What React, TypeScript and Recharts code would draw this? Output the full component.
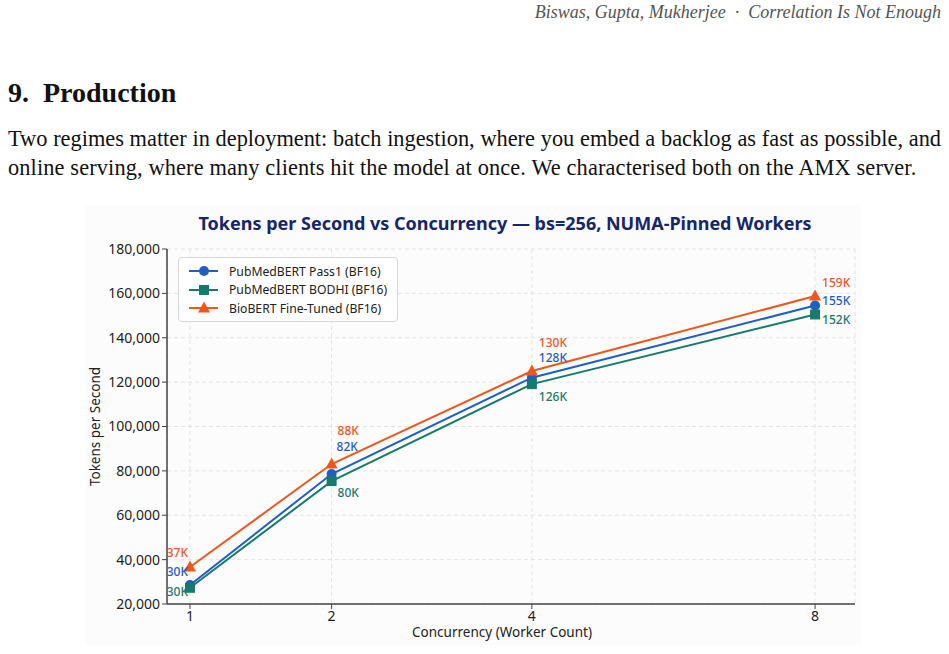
import React from 'react';
import { LineChart, Line, XAxis, YAxis, CartesianGrid, Legend, LabelList } from 'recharts';

// ---------- data ----------
const concurrency = [1, 2, 4, 8];
const pass1Values = [28600, 78600, 122000, 154500];
const bodhiValues = [27300, 75400, 119100, 150500];
const biobertValues = [36700, 83100, 125000, 158800];

const pass1Labels = ['30K', '82K', '128K', '155K'];
const bodhiLabels = ['30K', '80K', '126K', '152K'];
const biobertLabels = ['37K', '88K', '130K', '159K'];

const xTicks = [1, 2, 4, 8];
const yTicks = [20000, 40000, 60000, 80000, 100000, 120000, 140000, 160000, 180000];

const seriesNames = ['PubMedBERT Pass1 (BF16)', 'PubMedBERT BODHI (BF16)', 'BioBERT Fine-Tuned (BF16)'];

// ---------- style ----------
const BLUE = '#1f5ec4';
const TEAL = '#167a6c';
const ORANGE = '#f0561c';
const SANS = '"Noto Sans", "Open Sans", sans-serif';

type Off = { dx: number; dy: number; anchor: 'start' | 'end' };
const pass1Offsets: Off[] = [
  { dx: -2, dy: -13, anchor: 'end' },
  { dx: 5, dy: -27, anchor: 'start' },
  { dx: 7, dy: -20, anchor: 'start' },
  { dx: 7, dy: -5, anchor: 'start' },
];
const bodhiOffsets: Off[] = [
  { dx: -2, dy: 4, anchor: 'end' },
  { dx: 6, dy: 11, anchor: 'start' },
  { dx: 7, dy: 12, anchor: 'start' },
  { dx: 7, dy: 5, anchor: 'start' },
];
const biobertOffsets: Off[] = [
  { dx: -2, dy: -14, anchor: 'end' },
  { dx: 6, dy: -33, anchor: 'start' },
  { dx: 7, dy: -29, anchor: 'start' },
  { dx: 7, dy: -14, anchor: 'start' },
];

const data = concurrency.map((c, i) => ({
  c,
  pass1: pass1Values[i],
  bodhi: bodhiValues[i],
  biobert: biobertValues[i],
}));

const makeLabel = (labels: string[], offsets: Off[], color: string) => (props: any) => {
  const { x, y, index } = props;
  if (x == null || y == null) return null;
  const o = offsets[index];
  return (
    <text
      key={`lbl-${index}`}
      x={x + o.dx}
      y={y + o.dy}
      textAnchor={o.anchor}
      dominantBaseline="central"
      fill={color}
      fontFamily={SANS}
      fontSize={12}
      fontWeight={500}
    >
      {labels[index]}
    </text>
  );
};

const squareDot = (color: string) => (props: any) => {
  const { cx, cy, index } = props;
  if (cx == null || cy == null) return <g key={`sq-${index}`} />;
  return <rect key={`sq-${index}`} x={cx - 5} y={cy - 5} width={10} height={10} fill={color} />;
};

const triangleDot = (color: string) => (props: any) => {
  const { cx, cy, index } = props;
  if (cx == null || cy == null) return <g key={`tr-${index}`} />;
  return (
    <path
      key={`tr-${index}`}
      d={`M${cx},${cy - 6.5} L${cx + 6},${cy + 4.5} L${cx - 6},${cy + 4.5} Z`}
      fill={color}
    />
  );
};

const legendItems = [
  { name: seriesNames[0], color: BLUE, shape: 'circle' },
  { name: seriesNames[1], color: TEAL, shape: 'square' },
  { name: seriesNames[2], color: ORANGE, shape: 'triangle' },
];

const renderLegend = () => (
  <div
    style={{
      width: 220,
      height: 65,
      boxSizing: 'border-box',
      border: '1px solid #d6d6d6',
      borderRadius: 4,
      background: 'rgba(255,255,255,0.95)',
      paddingTop: 4,
      fontFamily: SANS,
      fontSize: 12.2,
      color: '#222',
    }}
  >
    {legendItems.map((it) => (
      <div key={it.name} style={{ display: 'flex', alignItems: 'center', height: 18.5 }}>
        <svg width={50} height={14} style={{ flex: '0 0 auto' }}>
          <line x1={10} y1={7} x2={39} y2={7} stroke={it.color} strokeWidth={2} />
          {it.shape === 'circle' && <circle cx={25} cy={7} r={5} fill={it.color} />}
          {it.shape === 'square' && <rect x={20} y={2} width={10} height={10} fill={it.color} />}
          {it.shape === 'triangle' && <path d="M25,0.5 L31,11.5 L19,11.5 Z" fill={it.color} />}
        </svg>
        <span style={{ whiteSpace: 'nowrap' }}>{it.name}</span>
      </div>
    ))}
  </div>
);

const YLabel = (props: any) => {
  const vb = props.viewBox || { x: 0, y: 0, width: 0, height: 0 };
  const cx = vb.x + 10;
  const cy = vb.y + vb.height / 2;
  return (
    <text
      x={cx}
      y={cy}
      transform={`rotate(-90, ${cx}, ${cy})`}
      textAnchor="middle"
      dominantBaseline="central"
      fontFamily={SANS}
      fontSize={13.5}
      fill="#222"
    >
      Tokens per Second
    </text>
  );
};

const XLabel = (props: any) => {
  const vb = props.viewBox || { x: 0, y: 0, width: 0, height: 0 };
  const cx = vb.x + vb.width / 2 - 9;
  const cy = vb.y + 28;
  return (
    <text x={cx} y={cy} textAnchor="middle" dominantBaseline="central" fontFamily={SANS} fontSize={13.5} fill="#222">
      Concurrency (Worker Count)
    </text>
  );
};

const fmt = (v: number) => v.toLocaleString('en-US');

export default function App() {
  return (
    <div style={{ position: 'absolute', left: 0, top: 0, width: 949, height: 654, background: '#fff', overflow: 'hidden' }}>
      {/* running header */}
      <div
        style={{
          position: 'absolute',
          right: 8,
          top: 2,
          fontFamily: '"Liberation Serif", "Times New Roman", serif',
          fontStyle: 'italic',
          fontSize: 18,
          color: '#555',
          whiteSpace: 'nowrap',
        }}
      >
        Biswas, Gupta, Mukherjee&nbsp;&nbsp;·&nbsp;&nbsp;Correlation Is Not Enough
      </div>

      {/* section heading */}
      <div
        style={{
          position: 'absolute',
          left: 8,
          top: 76,
          fontFamily: '"Liberation Serif", "Times New Roman", serif',
          fontWeight: 'bold',
          fontSize: 28,
          lineHeight: '34px',
          color: '#111',
          whiteSpace: 'nowrap',
        }}
      >
        9.&nbsp;&nbsp;Production
      </div>

      {/* paragraph */}
      <div
        style={{
          position: 'absolute',
          left: 8,
          top: 124,
          width: 933,
          fontFamily: '"Liberation Serif", "Times New Roman", serif',
          fontSize: 22.35,
          lineHeight: '29px',
          color: '#111',
        }}
      >
        <div style={{ textAlign: 'justify', textAlignLast: 'justify', whiteSpace: 'nowrap' }}>
          Two regimes matter in deployment: batch ingestion, where you embed a backlog as fast as possible, and
        </div>
        <div style={{ whiteSpace: 'nowrap', letterSpacing: 0.13 }}>
          online serving, where many clients hit the model at once. We characterised both on the AMX server.
        </div>
      </div>

      {/* figure */}
      <div style={{ position: 'absolute', left: 85, top: 205, width: 777, height: 440, background: '#fcfcfc' }}>
        <div
          style={{
            position: 'absolute',
            left: 0,
            top: 6,
            width: 840,
            textAlign: 'center',
            fontFamily: SANS,
            fontWeight: 'bold',
            fontSize: 18,
            lineHeight: '24px',
            color: '#16266b',
            whiteSpace: 'nowrap',
          }}
        >
          Tokens per Second vs Concurrency — bs=256, NUMA-Pinned Workers
        </div>
        <LineChart width={777} height={440} data={data} margin={{ top: 44, right: 7, bottom: 0, left: 0 }}>
          <CartesianGrid stroke="#e3e3e3" strokeDasharray="4 3" vertical horizontal />
          <XAxis
            dataKey="c"
            type="number"
            scale="sqrt"
            domain={[0.87, 8.674]}
            ticks={xTicks}
            allowDataOverflow
            height={41}
            axisLine={{ stroke: '#444', strokeWidth: 1.5 }}
            tickLine={{ stroke: '#444' }}
            tickSize={5}
            tick={{ fill: '#222', fontSize: 14, fontFamily: SANS }}
            label={<XLabel />}
          />
          <YAxis
            type="number"
            domain={[20000, 180000]}
            ticks={yTicks}
            width={82}
            axisLine={{ stroke: '#444', strokeWidth: 1.5 }}
            tickLine={{ stroke: '#444' }}
            tickSize={5}
            tickFormatter={fmt}
            tick={{ fill: '#222', fontSize: 14, fontFamily: SANS }}
            label={<YLabel />}
          />
          <Legend
            layout="horizontal"
            verticalAlign="middle"
            align="center"
            content={renderLegend}
            wrapperStyle={{ top: 52, left: 93, width: 'auto' }}
          />
          <Line
            dataKey="pass1"
            name={seriesNames[0]}
            stroke={BLUE}
            strokeWidth={2}
            dot={{ r: 5, fill: BLUE, stroke: BLUE, strokeWidth: 0 }}
            isAnimationActive={false}
          >
            <LabelList dataKey="pass1" content={makeLabel(pass1Labels, pass1Offsets, BLUE)} />
          </Line>
          <Line
            dataKey="bodhi"
            name={seriesNames[1]}
            stroke={TEAL}
            strokeWidth={2}
            dot={squareDot(TEAL)}
            isAnimationActive={false}
          >
            <LabelList dataKey="bodhi" content={makeLabel(bodhiLabels, bodhiOffsets, TEAL)} />
          </Line>
          <Line
            dataKey="biobert"
            name={seriesNames[2]}
            stroke={ORANGE}
            strokeWidth={2}
            dot={triangleDot(ORANGE)}
            isAnimationActive={false}
          >
            <LabelList dataKey="biobert" content={makeLabel(biobertLabels, biobertOffsets, ORANGE)} />
          </Line>
        </LineChart>
      </div>
    </div>
  );
}
